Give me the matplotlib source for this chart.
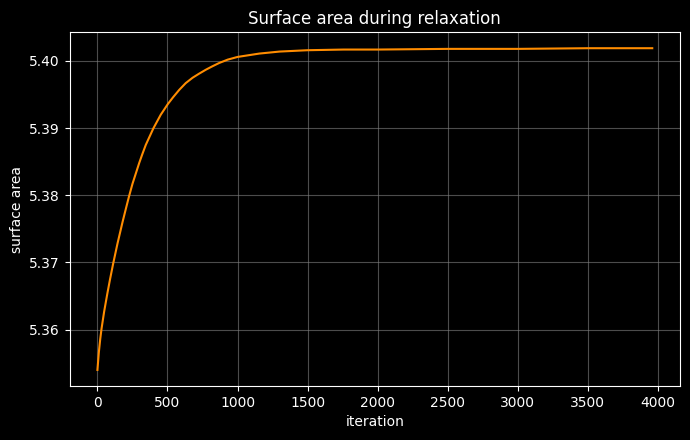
import matplotlib
matplotlib.use("Agg")
import matplotlib.pyplot as plt

iterations = [0, 10, 20, 29, 48, 71, 90, 112, 143, 179, 203, 225, 250, 298, 320,
              345, 400, 452, 503, 540, 584, 630, 679, 725, 774, 820, 869, 930,
              1000, 1155, 1300, 1500, 1757, 2000, 2500, 3000, 3500, 3960]
surface_area = [5.3540, 5.3566, 5.3586, 5.3601, 5.3627, 5.3654, 5.3675, 5.3698,
                5.3728, 5.3760, 5.3780, 5.3798, 5.3817, 5.3848, 5.3861, 5.3875,
                5.3900, 5.3920, 5.3936, 5.3946, 5.3957, 5.3967, 5.3975, 5.3981,
                5.3987, 5.3992, 5.3997, 5.4002, 5.4006, 5.4011, 5.4014, 5.4016,
                5.4017, 5.4017, 5.4018, 5.4018, 5.4019, 5.4019]

plt.style.use("dark_background")
fig, ax = plt.subplots(figsize=(6.9, 4.4), dpi=100)
ax.plot(iterations, surface_area, color="darkorange", linewidth=1.5)
ax.set_title("Surface area during relaxation")
ax.set_xlabel("iteration")
ax.set_ylabel("surface area")
ax.grid(True, color="gray", alpha=0.6, linewidth=0.8)
fig.subplots_adjust(left=0.101, right=0.9855, top=0.927, bottom=0.1227)
fig.savefig("out.png", dpi=100)
